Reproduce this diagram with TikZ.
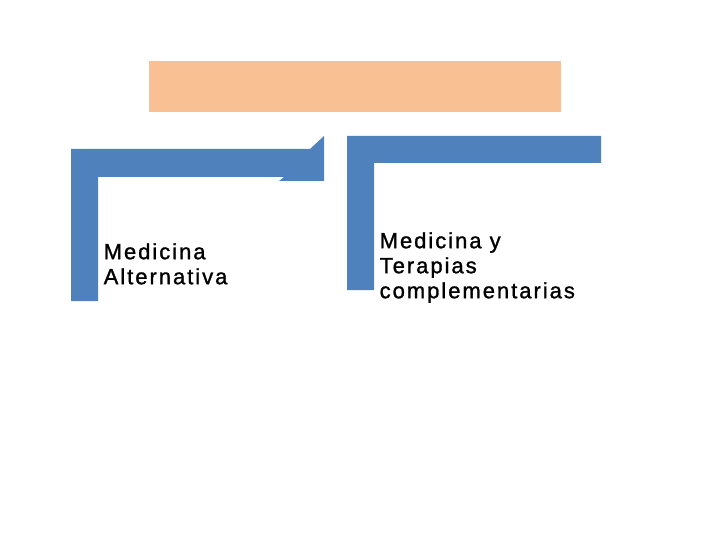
\documentclass[tikz,border=0pt]{standalone}
\usepackage{fontspec}
\setmainfont[LetterSpace=9,FakeBold=1.2]{Liberation Sans}
\definecolor{shapeblue}{HTML}{4F81BD}
\definecolor{headorange}{HTML}{F9C193}
\begin{document}
\begin{tikzpicture}[x=1pt,y=-1pt,
  bluebar/.style={fill=shapeblue,draw=none},
  label/.style={anchor=north west,inner sep=0pt,align=left,
    font=\fontsize{22}{25}\selectfont}]
\useasboundingbox (0,0) rectangle (720,540);
\fill[white] (0,0) rectangle (720,540);
% title box
\fill[headorange] (149,61) rectangle (561,112);
% left bent shape with arrow head
\path[bluebar] (71,149) -- (310,149) -- (324,136) -- (324,181) -- (279,181)
  -- (284,177) -- (98,177) -- (98,301) -- (71,301) -- cycle;
% right bent shape
\path[bluebar] (347,136) -- (601,136) -- (601,163) -- (374,163)
  -- (374,290) -- (347,290) -- cycle;
% texts
\node[label] (alt) at (103.5,243) {\rule{0pt}{16pt}Medicina\\Alternativa};
\node[label] (comp) at (379.5,232) {\rule{0pt}{16pt}Medicina y\\Terapias\\complementarias};
\end{tikzpicture}
\end{document}
